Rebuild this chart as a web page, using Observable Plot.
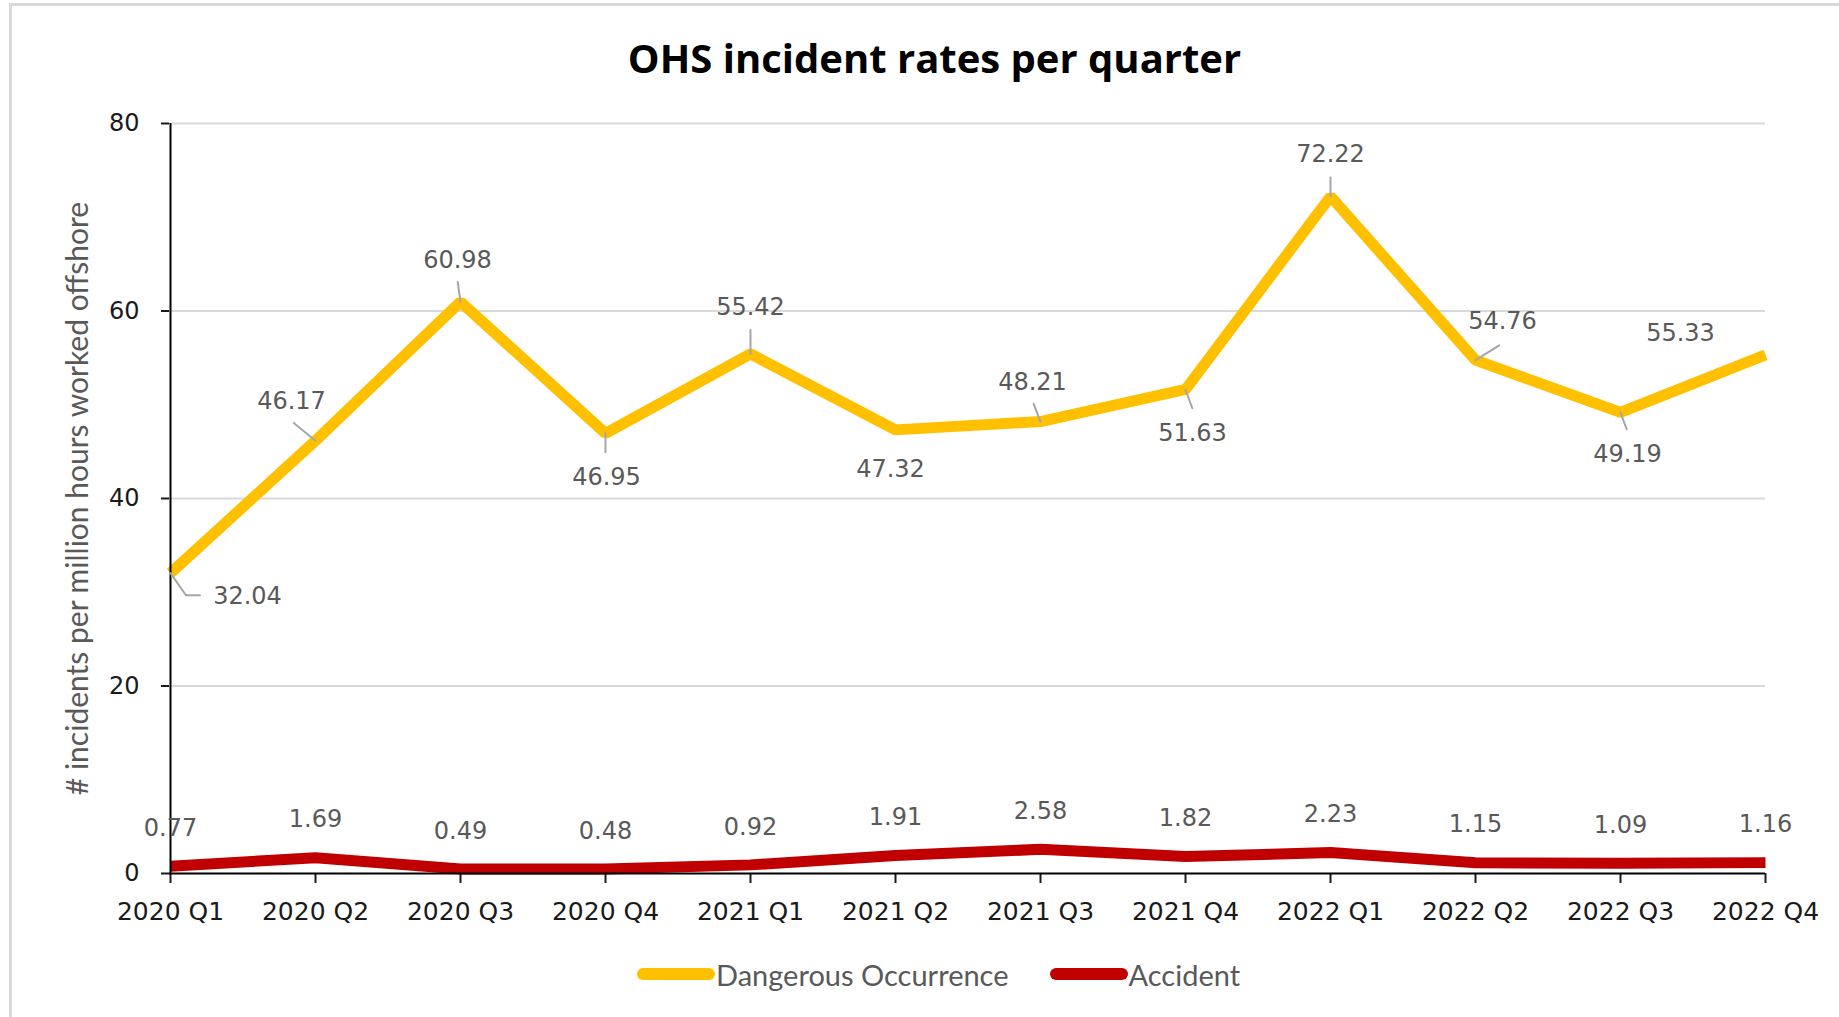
<!DOCTYPE html>
<html>
<head>
<meta charset="utf-8">
<script src="https://cdn.jsdelivr.net/npm/d3@7"></script>
<script src="https://cdn.jsdelivr.net/npm/@observablehq/plot@0.6"></script>
<style>
  html, body { margin: 0; padding: 0; background: #fff; }
  #frame { position: absolute; left: 9px; top: 3px; width: 2000px; height: 1100px;
           border-left: 3px solid #d9d9d9; border-top: 3px solid #d9d9d9; box-sizing: border-box; }
  #title { position: absolute; left: 15px; top: 36px; width: 1839px; text-align: center;
           font-family: "Open Sans", sans-serif; font-weight: 700; font-size: 40px; line-height: 44px; color: #000; }
  #chart { position: absolute; left: 0; top: 90px; }
  #legend { position: absolute; left: 637px; top: 954px; height: 40px; display: flex; align-items: center;
            font-family: Lato, sans-serif; font-size: 29px; color: #595959; }
  .item { display: flex; align-items: center; margin-right: 41px; }
  .sw { width: 78px; height: 12px; border-radius: 6px; margin-right: 1px; }
</style>
</head>
<body>
<div id="frame"></div>
<div id="title">OHS incident rates per quarter</div>
<div id="chart"></div>
<div id="legend"></div>
<script>
// ---- data ----
const quarters = ["2020 Q1","2020 Q2","2020 Q3","2020 Q4","2021 Q1","2021 Q2","2021 Q3","2021 Q4","2022 Q1","2022 Q2","2022 Q3","2022 Q4"];
const dangerous = [32.04, 46.17, 60.98, 46.95, 55.42, 47.32, 48.21, 51.63, 72.22, 54.76, 49.19, 55.33];
const accident = [0.77, 1.69, 0.49, 0.48, 0.92, 1.91, 2.58, 1.82, 2.23, 1.15, 1.09, 1.16];
const yTicks = [0, 20, 40, 60, 80];
const seriesNames = ["Dangerous Occurrence", "Accident"];
const seriesColors = ["#FFC000", "#C00000"];
const yTitle = "# incidents per million hours worked offshore";

// label placement (pixel offsets from each point) and leader lines, as in the original
const dangerLabelOffset = [[77,23],[-24,-39],[-3,-42],[1,44],[0,-47],[-5,39],[-8,-39],[7,44],[0,-42],[27,-39],[7,42],[-85,-21]];
const dangerLeader = [[145,27],[-51,28],[-8,20],[180,19],[0,24],[0,0],[-21,19],[160,20],[0,19],[58,28],[160,18],[0,0]];

const fmt = d3.format(".2f");
const rowsD = quarters.map((q, i) => ({q, v: dangerous[i]}));
const rowsA = quarters.map((q, i) => ({q, v: accident[i]}));

const leaderShape = { draw(context, l) { context.moveTo(0, 0); context.lineTo(0, -l); } };

const dangerLabels = rowsD.map((d, i) => Plot.text([d], {
  x: "q", y: "v", text: d => fmt(d.v), dx: dangerLabelOffset[i][0], dy: dangerLabelOffset[i][1],
  fill: "#595959", fontSize: 24, fontFamily: "DejaVu Sans"
}));
const leaders = rowsD.filter((d, i) => dangerLeader[i][1] > 0).map(d => {
  const i = quarters.indexOf(d.q);
  return Plot.vector([d], {x: "q", y: "v", rotate: dangerLeader[i][0], length: dangerLeader[i][1],
    anchor: "start", shape: leaderShape, stroke: "#A6A6A6", strokeWidth: 2});
});
// elbow on the first leader
const r0 = dangerLeader[0][0] * Math.PI / 180, l0 = dangerLeader[0][1];
leaders.push(Plot.vector([rowsD[0]], {x: "q", y: "v", rotate: 90, length: 14, anchor: "start", shape: leaderShape,
  dx: Math.sin(r0) * l0, dy: -Math.cos(r0) * l0, stroke: "#A6A6A6", strokeWidth: 2}));

const chart = Plot.plot({
  width: 1839,
  height: 850,
  marginLeft: 169,
  marginRight: 74,
  marginTop: 33,
  marginBottom: 67,
  style: {fontFamily: "DejaVu Sans", fontSize: "24px", color: "#1a1a1a", background: "transparent"},
  x: {type: "point", domain: quarters, padding: 0, label: null},
  y: {domain: [0, 80], label: null},
  marks: [
    Plot.ruleY(yTicks.filter(t => t > 0), {stroke: "#d9d9d9", strokeWidth: 2}),
    Plot.axisY({ticks: yTicks, tickSize: 8, tickPadding: 22, fontSize: 24, strokeWidth: 2, tickFormat: d3.format("d")}),
    Plot.axisX({tickSize: 10, tickPadding: 19, fontSize: 25, strokeWidth: 2}),
    Plot.line(rowsA, {x: "q", y: "v", stroke: seriesColors[1], strokeWidth: 11, strokeLinejoin: "miter", strokeLinecap: "butt"}),
    Plot.line(rowsD, {x: "q", y: "v", stroke: seriesColors[0], strokeWidth: 11, strokeLinejoin: "miter", strokeLinecap: "butt"}),
    Plot.ruleX([quarters[0]], {y1: 0, y2: 80, stroke: "#000", strokeWidth: 2}),
    Plot.ruleY([0], {stroke: "#000", strokeWidth: 2}),
    ...leaders,
    ...dangerLabels,
    Plot.text(rowsA, {x: "q", y: "v", text: d => fmt(d.v), dy: -38, fill: "#595959", fontSize: 24, fontFamily: "DejaVu Sans"}),
    Plot.text([yTitle], {frameAnchor: "left", dx: -91, rotate: -90, textAnchor: "middle",
      fill: "#595959", fontSize: 30, fontFamily: "Lato"})
  ]
});
document.getElementById("chart").appendChild(chart);

const legend = document.getElementById("legend");
seriesNames.forEach((name, i) => {
  const item = document.createElement("div");
  item.className = "item";
  const sw = document.createElement("div");
  sw.className = "sw";
  sw.style.background = seriesColors[i];
  const t = document.createElement("span");
  t.textContent = name;
  item.appendChild(sw);
  item.appendChild(t);
  legend.appendChild(item);
});
</script>
</body>
</html>
